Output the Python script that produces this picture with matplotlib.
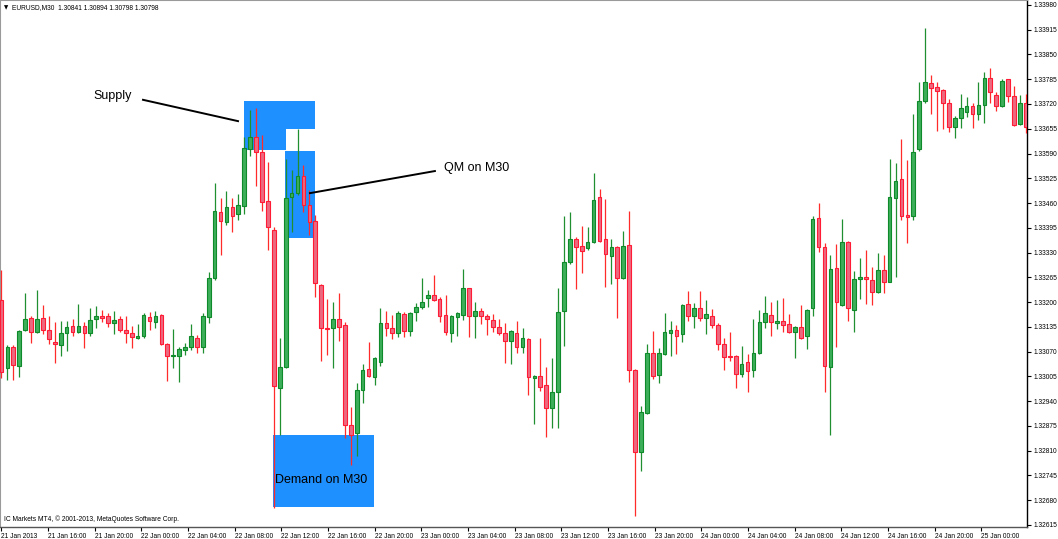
import numpy as np
import matplotlib.pyplot as plt
from matplotlib.patches import Rectangle

# EURUSD M30 candles, 21 Jan 12:00 .. 25 Jan
opens = [1.33206, 1.33028, 1.33082, 1.33033, 1.33127, 1.33158, 1.33122, 1.33158, 1.33127, 1.33095,
         1.33088, 1.33118, 1.33137, 1.33122, 1.33137, 1.33120, 1.33155, 1.33163, 1.33163, 1.33144,
         1.33155, 1.33127, 1.33120, 1.33105, 1.33111, 1.33162, 1.33148, 1.33166, 1.33090, 1.33059,
         1.33058, 1.33074, 1.33081, 1.33105, 1.33081, 1.33160, 1.33262, 1.33436, 1.33409, 1.33450,
         1.33431, 1.33453, 1.33602, 1.33634, 1.33595, 1.33465, 1.33389, 1.32974, 1.33029, 1.33477,
         1.33486, 1.33531, 1.33455, 1.33413, 1.33245, 1.33131, 1.33131, 1.33155, 1.33140, 1.32877,
         1.32856, 1.32969, 1.33024, 1.33004, 1.33044, 1.33144, 1.33131, 1.33120, 1.33169, 1.33125,
         1.33175, 1.33186, 1.33210, 1.33219, 1.33207, 1.33166, 1.33120, 1.33162, 1.33166, 1.33236,
         1.33163, 1.33177, 1.33163, 1.33153, 1.33135, 1.33120, 1.33099, 1.33118, 1.33083, 1.33103,
         1.33002, 1.33007, 1.32982, 1.32923, 1.32963, 1.33177, 1.33306, 1.33366, 1.33347, 1.33341,
         1.33357, 1.33475, 1.33366, 1.33322, 1.33344, 1.33262, 1.33350, 1.33022, 1.32807, 1.32908,
         1.33067, 1.33009, 1.33063, 1.33118, 1.33127, 1.33116, 1.33194, 1.33164, 1.33184, 1.33158,
         1.33164, 1.33140, 1.33089, 1.33059, 1.33058, 1.33010, 1.33044, 1.33022, 1.33066, 1.33147,
         1.33166, 1.33146, 1.33150, 1.33142, 1.33122, 1.33135, 1.33112, 1.33184, 1.33420, 1.33344,
         1.33029, 1.33289, 1.33192, 1.33359, 1.33179, 1.33260, 1.33267, 1.33258, 1.33226, 1.33284,
         1.33254, 1.33472, 1.33522, 1.33429, 1.33427, 1.33602, 1.33728, 1.33776, 1.33764, 1.33757,
         1.33722, 1.33659, 1.33683, 1.33700, 1.33715, 1.33694, 1.33717, 1.33788, 1.33744, 1.33716,
         1.33785, 1.33742, 1.33668, 1.33722]
highs = [1.33284, 1.33087, 1.33087, 1.33126, 1.33225, 1.33163, 1.33232, 1.33192, 1.33164, 1.33148,
         1.33151, 1.33151, 1.33155, 1.33195, 1.33148, 1.33185, 1.33190, 1.33179, 1.33172, 1.33177,
         1.33164, 1.33164, 1.33138, 1.33143, 1.33172, 1.33175, 1.33177, 1.33169, 1.33093, 1.33129,
         1.33082, 1.33093, 1.33143, 1.33114, 1.33172, 1.33280, 1.33513, 1.33474, 1.33492, 1.33472,
         1.33483, 1.33634, 1.33704, 1.33709, 1.33639, 1.33567, 1.33398, 1.33105, 1.33576, 1.33547,
         1.33654, 1.33560, 1.33494, 1.33429, 1.33248, 1.33207, 1.33200, 1.33225, 1.33148, 1.32925,
         1.32988, 1.33038, 1.33096, 1.33056, 1.33184, 1.33177, 1.33166, 1.33177, 1.33175, 1.33175,
         1.33197, 1.33262, 1.33232, 1.33271, 1.33213, 1.33219, 1.33166, 1.33174, 1.33286, 1.33238,
         1.33201, 1.33185, 1.33169, 1.33169, 1.33155, 1.33144, 1.33127, 1.33150, 1.33131, 1.33106,
         1.33009, 1.33105, 1.33029, 1.33053, 1.33236, 1.33426, 1.33437, 1.33370, 1.33400, 1.33396,
         1.33538, 1.33497, 1.33470, 1.33366, 1.33346, 1.33387, 1.33439, 1.33024, 1.32928, 1.33090,
         1.33124, 1.33080, 1.33171, 1.33150, 1.33140, 1.33195, 1.33229, 1.33197, 1.33229, 1.33206,
         1.33182, 1.33146, 1.33105, 1.33121, 1.33061, 1.33085, 1.33064, 1.33155, 1.33179, 1.33216,
         1.33201, 1.33206, 1.33210, 1.33169, 1.33137, 1.33192, 1.33182, 1.33426, 1.33459, 1.33356,
         1.33324, 1.33352, 1.33418, 1.33360, 1.33282, 1.33315, 1.33337, 1.33291, 1.33328, 1.33324,
         1.33576, 1.33564, 1.33627, 1.33573, 1.33694, 1.33779, 1.33919, 1.33796, 1.33779, 1.33759,
         1.33733, 1.33689, 1.33746, 1.33739, 1.33722, 1.33777, 1.33805, 1.33814, 1.33752, 1.33785,
         1.33786, 1.33767, 1.33744, 1.33746]
lows = [1.33001, 1.32996, 1.32996, 1.33004, 1.33125, 1.33093, 1.33120, 1.33116, 1.33090, 1.33040,
        1.33059, 1.33072, 1.33111, 1.33118, 1.33079, 1.33112, 1.33133, 1.33148, 1.33134, 1.33116,
        1.33121, 1.33093, 1.33079, 1.33102, 1.33105, 1.33127, 1.33131, 1.33087, 1.32993, 1.33026,
        1.32990, 1.33061, 1.33074, 1.33067, 1.33066, 1.33144, 1.33258, 1.33324, 1.33402, 1.33385,
        1.33415, 1.33431, 1.33583, 1.33505, 1.33440, 1.33337, 1.32659, 1.32851, 1.33026, 1.33385,
        1.33481, 1.33437, 1.33376, 1.33214, 1.33046, 1.33061, 1.33026, 1.33098, 1.32843, 1.32772,
        1.32796, 1.32934, 1.33004, 1.32982, 1.33032, 1.33111, 1.33103, 1.33109, 1.33109, 1.33111,
        1.33151, 1.33181, 1.33186, 1.33204, 1.33148, 1.33114, 1.33096, 1.33111, 1.33153, 1.33109,
        1.33105, 1.33143, 1.33114, 1.33122, 1.33114, 1.33041, 1.33037, 1.33066, 1.33067, 1.32956,
        1.32880, 1.32967, 1.32845, 1.32869, 1.32869, 1.33086, 1.33300, 1.33234, 1.33276, 1.33337,
        1.33356, 1.33359, 1.33240, 1.33247, 1.33158, 1.33261, 1.32991, 1.32639, 1.32757, 1.32906,
        1.32998, 1.32987, 1.33061, 1.33059, 1.33063, 1.33095, 1.33151, 1.33133, 1.33150, 1.33116,
        1.33131, 1.33074, 1.33022, 1.33046, 1.32975, 1.33004, 1.32963, 1.33004, 1.33064, 1.33133,
        1.33112, 1.33129, 1.33122, 1.33120, 1.33053, 1.33104, 1.33076, 1.33163, 1.33332, 1.32963,
        1.32851, 1.33083, 1.33190, 1.33151, 1.33122, 1.33207, 1.33195, 1.33192, 1.33224, 1.33223,
        1.33253, 1.33267, 1.33415, 1.33356, 1.33415, 1.33597, 1.33723, 1.33694, 1.33650, 1.33654,
        1.33647, 1.33630, 1.33658, 1.33687, 1.33658, 1.33678, 1.33671, 1.33722, 1.33702, 1.33713,
        1.33726, 1.33662, 1.33665, 1.33645]
closes = [1.33017, 1.33083, 1.33035, 1.33124, 1.33156, 1.33122, 1.33156, 1.33127, 1.33103, 1.33089,
          1.33119, 1.33135, 1.33122, 1.33137, 1.33118, 1.33153, 1.33163, 1.33159, 1.33144, 1.33153,
          1.33127, 1.33118, 1.33109, 1.33112, 1.33166, 1.33151, 1.33163, 1.33089, 1.33059, 1.33062,
          1.33077, 1.33081, 1.33112, 1.33083, 1.33163, 1.33262, 1.33440, 1.33414, 1.33450, 1.33427,
          1.33455, 1.33604, 1.33634, 1.33595, 1.33463, 1.33396, 1.32980, 1.33029, 1.33472, 1.33486,
          1.33531, 1.33455, 1.33411, 1.33251, 1.33131, 1.33129, 1.33155, 1.33134, 1.32877, 1.32851,
          1.32969, 1.33022, 1.33006, 1.33053, 1.33144, 1.33131, 1.33120, 1.33171, 1.33125, 1.33172,
          1.33186, 1.33201, 1.33219, 1.33206, 1.33163, 1.33122, 1.33163, 1.33171, 1.33236, 1.33163,
          1.33177, 1.33163, 1.33155, 1.33134, 1.33118, 1.33099, 1.33124, 1.33083, 1.33105, 1.33004,
          1.33007, 1.32978, 1.32923, 1.32963, 1.33173, 1.33306, 1.33366, 1.33345, 1.33335, 1.33359,
          1.33468, 1.33361, 1.33326, 1.33344, 1.33262, 1.33347, 1.33022, 1.32806, 1.32911, 1.33067,
          1.33007, 1.33066, 1.33121, 1.33127, 1.33112, 1.33192, 1.33164, 1.33184, 1.33159, 1.33168,
          1.33140, 1.33089, 1.33057, 1.33057, 1.33010, 1.33038, 1.33020, 1.33067, 1.33147, 1.33171,
          1.33148, 1.33150, 1.33140, 1.33122, 1.33135, 1.33107, 1.33179, 1.33418, 1.33344, 1.33032,
          1.33287, 1.33201, 1.33357, 1.33185, 1.33261, 1.33265, 1.33260, 1.33226, 1.33284, 1.33254,
          1.33475, 1.33519, 1.33426, 1.33424, 1.33595, 1.33728, 1.33777, 1.33763, 1.33755, 1.33722,
          1.33659, 1.33683, 1.33709, 1.33716, 1.33693, 1.33717, 1.33788, 1.33751, 1.33716, 1.33781,
          1.33742, 1.33665, 1.33722, 1.33659]

time_labels = ['21 Jan 2013', '21 Jan 16:00', '21 Jan 20:00', '22 Jan 00:00', '22 Jan 04:00',
               '22 Jan 08:00', '22 Jan 12:00', '22 Jan 16:00', '22 Jan 20:00', '23 Jan 00:00',
               '23 Jan 04:00', '23 Jan 08:00', '23 Jan 12:00', '23 Jan 16:00', '23 Jan 20:00',
               '24 Jan 00:00', '24 Jan 04:00', '24 Jan 08:00', '24 Jan 12:00', '24 Jan 16:00',
               '24 Jan 20:00', '25 Jan 00:00']
price_levels = [1.32615, 1.32680, 1.32745, 1.32810, 1.32875, 1.32940, 1.33005, 1.33070, 1.33135,
                1.33200, 1.33265, 1.33330, 1.33395, 1.33460, 1.33525, 1.33590, 1.33655, 1.33720,
                1.33785, 1.33850, 1.33915, 1.33980]

# zones: (first bar, last bar, low price, high price)
supply_zone = [(40.95, 52.95, 1.33654, 1.33728), (40.95, 48.05, 1.33599, 1.33654)]
qm_zone = (47.9, 52.95, 1.33368, 1.33597)
demand_zone = (45.85, 62.9, 1.32662, 1.32851)

font = 'Liberation Sans'
zone_col = '#1E90FF'

fig = plt.figure(figsize=(10.58, 5.39), dpi=100)
ax = fig.add_axes([0, 12 / 539, 1027 / 1058, 527 / 539])

o = np.array(opens)
h = np.array(highs)
l = np.array(lows)
c = np.array(closes)
x = np.arange(len(o))
up = c >= o
body_lo = np.minimum(o, c)
body_h = np.maximum(np.abs(c - o), 0.000006)

for x0, x1, y0, y1 in supply_zone + [qm_zone, demand_zone]:
    ax.add_patch(Rectangle((x0, y0), x1 - x0, y1 - y0, facecolor=zone_col,
                           edgecolor='none', zorder=1))

ax.vlines(x[up], l[up], h[up], color='#1F8F30', lw=0.9, zorder=3)
ax.vlines(x[~up], l[~up], h[~up], color='#FF2B2B', lw=0.9, zorder=3)
ax.bar(x[up], body_h[up], bottom=body_lo[up], width=0.62, color='#3DAE5A',
       edgecolor='#0E8A2A', linewidth=0.8, zorder=4)
ax.bar(x[~up], body_h[~up], bottom=body_lo[~up], width=0.62, color='#EC6A80',
       edgecolor='#FF1A35', linewidth=0.8, zorder=4)

# annotations
ax.plot([23.9, 39.95], [1.33731, 1.33675], color='black', lw=1.4, zorder=5)
ax.text(18.8, 1.33741, 'Supply', ha='center', va='center', fontsize=9,
        family=font, zorder=6)
ax.plot([73.2, 52.1], [1.33544, 1.33486], color='black', lw=1.4, zorder=5)
ax.text(80.3, 1.33552, 'QM on M30', ha='center', va='center', fontsize=9,
        family=font, zorder=6)
ax.text(54.0, 1.32733, 'Demand on M30', ha='center', va='center', fontsize=9,
        family=font, zorder=6)

ax.set_xlim(-0.25, 173.2)
ax.set_ylim(1.326096, 1.33993)

ax.yaxis.tick_right()
ax.set_yticks(price_levels)
ax.set_yticklabels(['%.5f' % p for p in price_levels], fontsize=4.8, family=font)
ax.tick_params(axis='y', direction='out', length=3, width=0.8, pad=2)

ax.set_xticks(np.arange(len(time_labels)) * 7.88)
ax.set_xticklabels(time_labels, fontsize=4.8, family=font, ha='left')
ax.tick_params(axis='x', direction='out', length=3, width=0.8, pad=1)

for side in ['left', 'top']:
    ax.spines[side].set_color('#9A9A9A')
    ax.spines[side].set_linewidth(1.5)
ax.spines['right'].set_color('black')
ax.spines['right'].set_linewidth(1.0)
ax.spines['bottom'].set_color('#555555')
ax.spines['bottom'].set_linewidth(1.0)

ax.text(0.004, 0.99, '\u25BC', transform=ax.transAxes, fontsize=4, va='top', ha='left')
ax.text(0.012, 0.992, 'EURUSD,M30  1.30841 1.30894 1.30798 1.30798', transform=ax.transAxes,
        fontsize=4.8, family=font, va='top', ha='left')
ax.text(0.004, 0.008, 'IC Markets MT4, \u00a9 2001-2013, MetaQuotes Software Corp.',
        transform=ax.transAxes, fontsize=4.8, family=font, va='bottom', ha='left')

plt.savefig('out.png', dpi=100)
